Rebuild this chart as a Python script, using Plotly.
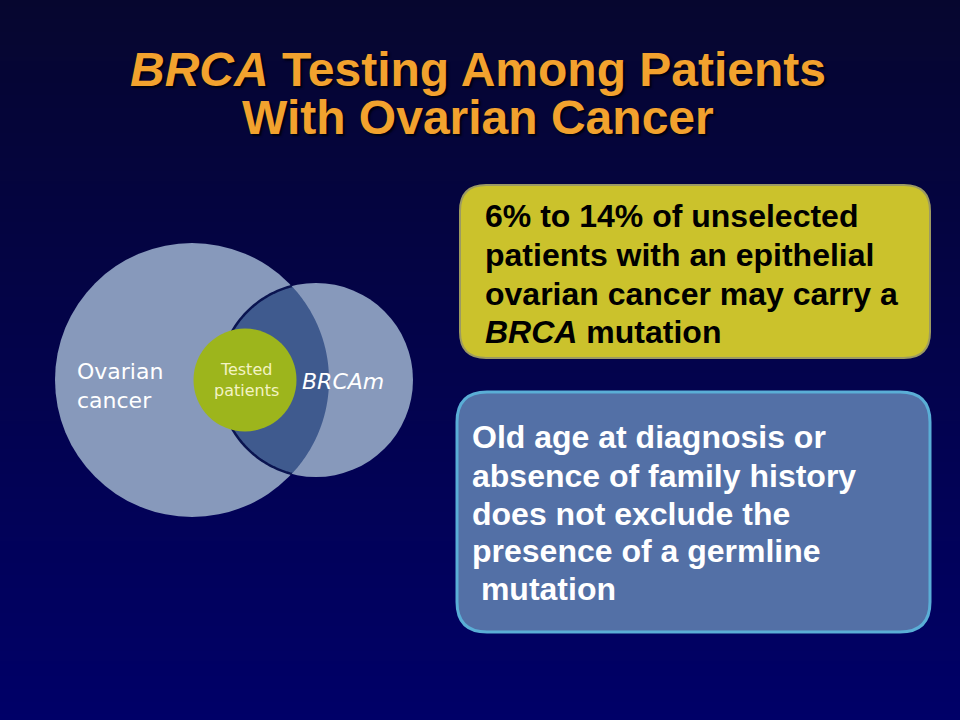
import numpy as np
import plotly.graph_objects as go

W, H = 960, 720

title_lines = ["<i>BRCA</i> Testing Among Patients", "With Ovarian Cancer"]

# venn sets
set_labels = ["Ovarian<br>cancer", "<i>BRCAm</i>", "Tested<br>patients"]

box1_lines = ["6% to 14% of unselected",
              "patients with an epithelial",
              "ovarian cancer may carry a",
              "<i>BRCA</i> mutation"]
box2_lines = ["Old age at diagnosis or",
              "absence of family history",
              "does not exclude the",
              "presence of a germline",
              "&nbsp;mutation"]

# circle geometry (pixels)
c_ov = (192, 380, 137)
c_br = (316, 380, 97)
c_te = (245, 380, 51.5)

LIGHT = "#8799bb"
LENS = "#3f5a8e"
GREEN = "#9db51c"
ORANGE = "#f2a22e"


def circle_shape(c, color):
    x, y, r = c
    return dict(type="circle", xref="x", yref="y", x0=x - r, x1=x + r,
                y0=y - r, y1=y + r, fillcolor=color, line=dict(width=0))


def rounded_box(x0, y0, x1, y1, r):
    return (f"M {x0+r},{y0} L {x1-r},{y0} Q {x1},{y0} {x1},{y0+r} "
            f"L {x1},{y1-r} Q {x1},{y1} {x1-r},{y1} L {x0+r},{y1} "
            f"Q {x0},{y1} {x0},{y1-r} L {x0},{y0+r} Q {x0},{y0} {x0+r},{y0} Z")


def pts_path(xs, ys, close=True):
    p = "M " + " L ".join(f"{a:.2f},{b:.2f}" for a, b in zip(xs, ys))
    return p + (" Z" if close else "")


# lens = intersection of ovarian and BRCAm circles
x1, y1, r1 = c_ov
x2, y2, r2 = c_br
d = x2 - x1
a = (d**2 + r1**2 - r2**2) / (2 * d)
h = np.sqrt(r1**2 - a**2)
t2 = np.arctan2(h, a - d)
t1 = np.arctan2(h, a)
phi_s = np.linspace(t2, 2 * np.pi - t2, 120)  # small circle, left arc
xs_s = x2 + r2 * np.cos(phi_s)
ys_s = y2 + r2 * np.sin(phi_s)
phi_b = np.linspace(-t1, t1, 120)  # big circle, right arc
xs_b = x1 + r1 * np.cos(phi_b)
ys_b = y1 + r1 * np.sin(phi_b)
lens_x = np.concatenate([xs_s, xs_b])
lens_y = np.concatenate([ys_s, ys_b])

fig = go.Figure()

# background gradient
fig.add_trace(go.Heatmap(x=[0, W], y=[0, H], z=[[0, 0], [1, 1]], zsmooth="best",
                         colorscale=[[0, "#06062f"], [1, "#000068"]],
                         showscale=False, hoverinfo="skip"))

shapes = [
    circle_shape(c_ov, LIGHT),
    circle_shape(c_br, LIGHT),
    dict(type="path", path=pts_path(lens_x, lens_y), fillcolor=LENS,
         line=dict(width=0)),
    dict(type="path", path=pts_path(xs_s, ys_s, close=False),
         line=dict(color="#0a1450", width=2.5)),
    circle_shape(c_te, GREEN),
    dict(type="path", path=rounded_box(460, 185, 930, 358, 26),
         fillcolor="#cbc22c", line=dict(color="#9c9a62", width=2)),
    dict(type="path", path=rounded_box(457, 392, 930, 632, 30),
         fillcolor="#5370a6", line=dict(color="#5aaed6", width=3)),
]

ann = []
for t, y in zip(title_lines, [69, 117]):
    ann.append(dict(x=478, y=y, text=t, showarrow=False, xanchor="center",
                    yanchor="middle",
                    font=dict(family="Liberation Sans", size=48, color=ORANGE,
                              weight="bold", shadow="2px 2px 2px #000010")))

ann.append(dict(x=75, y=386, text=set_labels[0], showarrow=False,
                xanchor="left", yanchor="middle", align="left",
                font=dict(family="DejaVu Sans", size=22, color="white")))
ann.append(dict(x=300, y=381, text=set_labels[1], showarrow=False,
                xanchor="left", yanchor="middle",
                font=dict(family="DejaVu Sans", size=22, color="white")))
ann.append(dict(x=246, y=380, text=set_labels[2], showarrow=False,
                xanchor="center", yanchor="middle", align="center",
                font=dict(family="DejaVu Sans", size=16, color="#f3f3c4")))

for t, y in zip(box1_lines, [216, 255, 294, 332]):
    ann.append(dict(x=483, y=y, text=t, showarrow=False, xanchor="left",
                    yanchor="middle",
                    font=dict(family="Liberation Sans", size=32, color="black",
                              weight="bold")))
for t, y in zip(box2_lines, [437, 476, 514, 551, 589]):
    ann.append(dict(x=470, y=y, text=t, showarrow=False, xanchor="left",
                    yanchor="middle",
                    font=dict(family="Liberation Sans", size=32, color="white",
                              weight="bold")))

fig.update_layout(
    width=W, height=H, margin=dict(l=0, r=0, t=0, b=0),
    paper_bgcolor="#000066", plot_bgcolor="#000066",
    xaxis=dict(range=[0, W], visible=False, fixedrange=True),
    yaxis=dict(range=[H, 0], visible=False, fixedrange=True),
    shapes=shapes, annotations=ann, showlegend=False,
)

fig.write_html("out.html", config=dict(displayModeBar=False),
               post_script="document.body.style.margin='0';")
